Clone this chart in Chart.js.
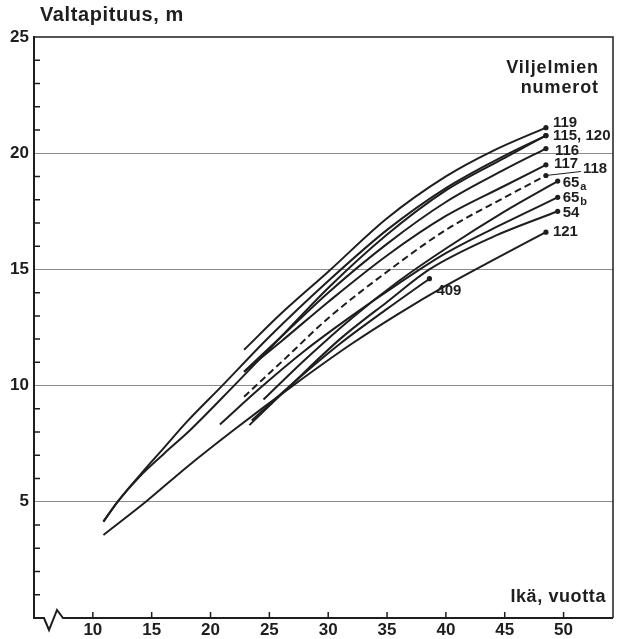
<!DOCTYPE html>
<html>
<head>
<meta charset="utf-8">
<script src="https://cdn.jsdelivr.net/npm/chart.js@4.4.1/dist/chart.umd.min.js"></script>
<style>
html, body { margin: 0; padding: 0; background: #fff; }
canvas { display: block; }
</style>
</head>
<body>
<canvas id="kasvu" width="620" height="639"></canvas>
<script>
// viljelmien numerot ja kasvukäyrät (ikä vuotta -> valtapituus m)
const viljelmat = ['119', '115, 120', '', '116', '117', '118', '65a', '65b', '54', '121', '409'];

const ika119 = [22.85, 26, 30, 35, 40, 44, 48.5];
const pit119 = [11.54, 13.1, 14.9, 17.2, 19.0, 20.1, 21.1];

const ika115 = [10.9, 12.1, 14, 16, 18, 21, 25, 30, 35, 40, 45, 48.5];
const pit115 = [4.15, 5.0, 6.15, 7.3, 8.45, 10.0, 12.1, 14.5, 16.7, 18.5, 19.9, 20.76];

const ika120 = [10.9, 12.1, 14, 16, 18.3, 22, 26, 30, 35, 40, 45, 48.5];
const pit120 = [4.15, 5.0, 6.1, 7.05, 8.1, 10.0, 12.1, 14.2, 16.5, 18.4, 19.8, 20.76];

const ika116 = [22.85, 26, 30, 35, 40, 45, 48.5];
const pit116 = [10.6, 12.1, 14.0, 16.1, 17.9, 19.3, 20.2];

const ika117 = [22.85, 26, 30, 35, 40, 45, 48.5];
const pit117 = [10.6, 11.9, 13.6, 15.6, 17.3, 18.6, 19.5];

const ika118 = [22.85, 26, 30, 35, 40, 45, 48.5];
const pit118 = [9.52, 11.0, 12.9, 14.9, 16.7, 18.1, 19.04];

const ika65a = [24.5, 28, 32, 36, 40, 45, 49.5];
const pit65a = [9.4, 11.1, 12.9, 14.5, 15.9, 17.5, 18.8];

const ika65b = [20.8, 24, 28, 32, 36, 40, 45, 49.5];
const pit65b = [8.33, 9.8, 11.5, 13.0, 14.4, 15.7, 17.0, 18.1];

const ika54 = [23.3, 27, 31, 35, 38.6, 44, 49.5];
const pit54 = [8.3, 10.1, 12.0, 13.6, 15.0, 16.4, 17.5];

const ika121 = [10.9, 14.5, 18, 22, 27, 32, 36, 40, 44, 48.5];
const pit121 = [3.57, 5.0, 6.5, 8.1, 10.0, 11.8, 13.1, 14.3, 15.4, 16.6];

const ika409 = [23.5, 27, 31, 35, 38.6];
const pit409 = [8.5, 10.1, 11.8, 13.3, 14.6];

const xTicks = [10, 15, 20, 25, 30, 35, 40, 45, 50];
const yTicks = [5, 10, 15, 20, 25];

const kayrat = [
    [ika119, pit119], [ika115, pit115], [ika120, pit120], [ika116, pit116],
    [ika117, pit117], [ika118, pit118], [ika65a, pit65a], [ika65b, pit65b],
    [ika54, pit54], [ika121, pit121], [ika409, pit409]
];

const FONT = "'Liberation Sans', Arial, Helvetica, sans-serif";
const INK = '#1e1e1e';

// tekstien siirrot käyrän päätepisteestä (px)
const labelOffset = {
    '119': [7, -5], '115, 120': [7, 0], '116': [9, 2], '117': [8, -1],
    '118': [37, -7], '65a': [5, 2], '65b': [5, 1], '54': [5, 2],
    '121': [7, 0], '409': [7, 12]
};

const datasets = kayrat.map(function(k, i) {
    const pts = k[0].map((a, j) => ({ x: a, y: k[1][j] }));
    const last = pts.length - 1;
    return {
        label: viljelmat[i],
        data: pts,
        showLine: true,
        borderColor: INK,
        borderWidth: 2,
        borderDash: viljelmat[i] === '118' ? [7, 4] : [],
        tension: 0.4,
        cubicInterpolationMode: 'monotone',
        pointRadius: ctx => ctx.dataIndex === last ? 2.6 : 0,
        pointBackgroundColor: INK,
        pointBorderWidth: 0,
        fill: false
    };
});

const koristeet = {
    id: 'koristeet',
    afterDraw(chart) {
        const c = chart.ctx;
        const a = chart.chartArea;
        const xs = chart.scales.x, ys = chart.scales.y;
        c.save();
        c.strokeStyle = INK;
        c.fillStyle = INK;

        // kehys ylhäällä ja oikealla
        c.lineWidth = 1.5;
        c.beginPath();
        c.moveTo(a.left, a.top);
        c.lineTo(a.right, a.top);
        c.lineTo(a.right, a.bottom);
        c.stroke();

        // x-akseli katkoviivalla
        c.lineWidth = 2;
        c.beginPath();
        c.moveTo(a.left, a.bottom);
        c.lineTo(a.left + 10, a.bottom);
        c.lineTo(a.left + 15, a.bottom + 12);
        c.lineTo(a.left + 23, a.bottom - 8);
        c.lineTo(a.left + 29, a.bottom);
        c.lineTo(a.right, a.bottom);
        c.stroke();

        // pienet jakoviivat
        c.lineWidth = 1.5;
        c.beginPath();
        for (let v = 1; v < 25; v++) {
            if (v % 5 === 0) continue;
            const y = ys.getPixelForValue(v);
            c.moveTo(a.left, y);
            c.lineTo(a.left + 6, y);
        }
        xTicks.forEach(function(v) {
            const x = xs.getPixelForValue(v);
            c.moveTo(x, a.bottom);
            c.lineTo(x, a.bottom - 6);
        });
        c.stroke();

        // käyrien numerot
        c.textBaseline = 'middle';
        c.textAlign = 'left';
        chart.data.datasets.forEach(function(ds) {
            const name = ds.label;
            if (!name) return;
            const p = ds.data[ds.data.length - 1];
            const px = xs.getPixelForValue(p.x), py = ys.getPixelForValue(p.y);
            const off = labelOffset[name];
            const tx = px + off[0], ty = py + off[1];
            if (name === '118') {
                c.lineWidth = 1;
                c.beginPath();
                c.moveTo(px, py);
                c.lineTo(tx - 2, ty + 3);
                c.stroke();
            }
            c.font = 'bold 15px ' + FONT;
            if (name === '65a' || name === '65b') {
                c.fillText('65', tx, ty);
                const w = c.measureText('65').width;
                c.font = 'bold 11px ' + FONT;
                c.fillText(name.slice(2), tx + w + 1, ty + 4);
            } else {
                c.fillText(name, tx, ty);
            }
        });

        // akselien otsikot
        c.letterSpacing = '0.6px';
        c.font = 'bold 20px ' + FONT;
        c.textAlign = 'left';
        c.fillText('Valtapituus, m', 40, 15);
        c.textAlign = 'right';
        c.font = 'bold 18px ' + FONT;
        c.fillText('Ikä, vuotta', 606, 597);
        c.letterSpacing = '0.9px';
        c.fillText('Viljelmien', 599, 68);
        c.fillText('numerot', 599, 88);
        c.restore();
    }
};

new Chart(document.getElementById('kasvu'), {
    type: 'scatter',
    data: { datasets: datasets },
    options: {
        responsive: false,
        animation: false,
        events: [],
        layout: { padding: { top: 37, right: 7, left: 0, bottom: 0 } },
        plugins: { legend: { display: false }, tooltip: { enabled: false } },
        scales: {
            x: {
                type: 'linear',
                min: 5,
                max: 54.2,
                afterBuildTicks: s => { s.ticks = xTicks.map(v => ({ value: v })); },
                afterFit: s => { s.height = 21; },
                grid: { display: false, drawTicks: false },
                border: { display: false },
                ticks: { color: INK, font: { family: FONT, size: 17, weight: 'bold' }, padding: 2, maxRotation: 0 }
            },
            y: {
                min: 0,
                max: 25,
                afterBuildTicks: s => { s.ticks = yTicks.map(v => ({ value: v })); },
                afterFit: s => { s.width = 34; },
                grid: {
                    drawTicks: false,
                    color: ctx => (ctx.tick && ctx.tick.value < 25) ? '#8c8c8c' : 'rgba(0,0,0,0)',
                    lineWidth: 1
                },
                border: { display: true, color: INK, width: 2 },
                ticks: { color: INK, font: { family: FONT, size: 17, weight: 'bold' }, padding: 5 }
            }
        }
    },
    plugins: [koristeet]
});
</script>
</body>
</html>
